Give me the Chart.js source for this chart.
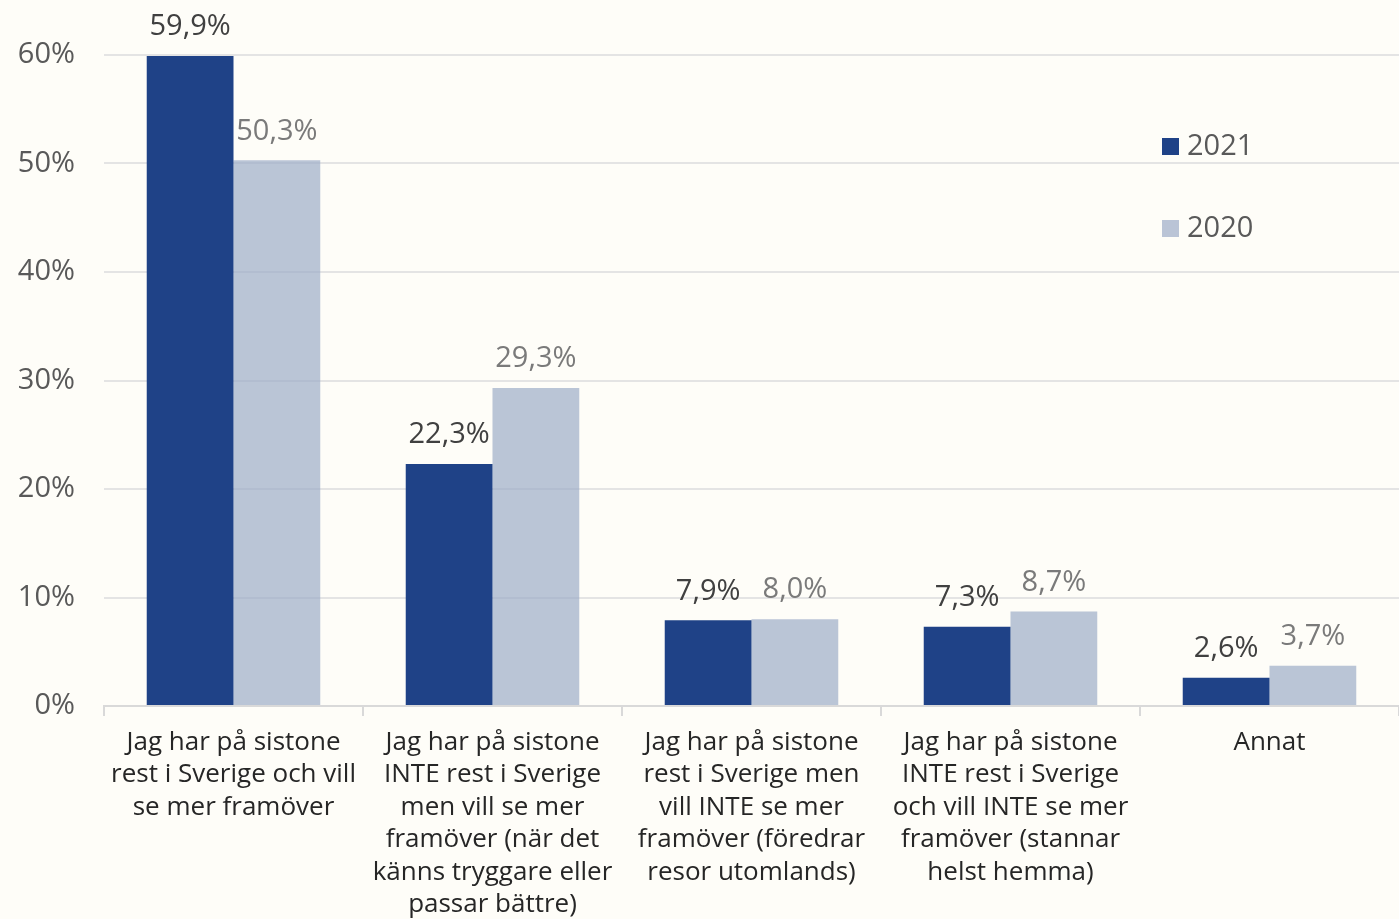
<!DOCTYPE html>
<html>
<head>
<meta charset="utf-8">
<script src="https://cdn.jsdelivr.net/npm/chart.js@4"></script>
<style>
  html, body { margin: 0; padding: 0; background: #fefdf8; }
  #wrap { width: 1399px; height: 919px; position: relative; }
</style>
</head>
<body>
<div id="wrap"><canvas id="chart"></canvas></div>
<script>
const categories = [
    ['Jag har på sistone', 'rest i Sverige och vill', 'se mer framöver'],
    ['Jag har på sistone', 'INTE rest i Sverige', 'men vill se mer', 'framöver (när det', 'känns tryggare eller', 'passar bättre)'],
    ['Jag har på sistone', 'rest i Sverige men', 'vill INTE se mer', 'framöver (föredrar', 'resor utomlands)'],
    ['Jag har på sistone', 'INTE rest i Sverige', 'och vill INTE se mer', 'framöver (stannar', 'helst hemma)'],
    ['Annat']
];
const seriesNames = ['2021', '2020'];
const values2021 = [59.9, 22.3, 7.9, 7.3, 2.6];
const values2020 = [50.3, 29.3, 8.0, 8.7, 3.7];
const yTicks = [0, 10, 20, 30, 40, 50, 60];

const FONT = "'Open Sans', 'DejaVu Sans', sans-serif";

// value labels above each bar
const valueLabels = {
    id: 'valueLabels',
    afterDatasetsDraw(chart) {
        const ctx = chart.ctx;
        ctx.save();
        ctx.font = '29px ' + FONT;
        ctx.textAlign = 'center';
        ctx.textBaseline = 'middle';
        chart.data.datasets.forEach((ds, i) => {
            const meta = chart.getDatasetMeta(i);
            ctx.fillStyle = ds.labelColor;
            meta.data.forEach((bar, j) => {
                const txt = ds.data[j].toFixed(1).replace('.', ',') + '%';
                ctx.fillText(txt, bar.x, bar.y - 29);
            });
        });
        ctx.restore();
    }
};

// legend drawn inside the plot, top right
const insideLegend = {
    id: 'insideLegend',
    afterDraw(chart) {
        const ctx = chart.ctx;
        const area = chart.chartArea;
        ctx.save();
        ctx.font = '29px ' + FONT;
        ctx.textBaseline = 'middle';
        ctx.textAlign = 'left';
        chart.data.datasets.forEach((ds, i) => {
            const x = area.right - 237;
            const y = 146 + i * 82;
            ctx.fillStyle = ds.legendColor;
            ctx.fillRect(x, y - 8, 17, 17);
            ctx.fillStyle = '#595959';
            ctx.fillText(ds.label, x + 25, y + 1);
        });
        ctx.restore();
    }
};

new Chart(document.getElementById('chart'), {
    type: 'bar',
    data: {
        labels: categories,
        datasets: [
            {
                label: seriesNames[0],
                data: values2021,
                backgroundColor: '#1f4287',
                legendColor: '#1f4287',
                labelColor: '#404040',
                categoryPercentage: 0.67,
                barPercentage: 1.0
            },
            {
                label: seriesNames[1],
                data: values2020,
                backgroundColor: 'rgba(156,172,199,0.7)',
                legendColor: '#bac4d6',
                labelColor: '#7a7a7a',
                categoryPercentage: 0.67,
                barPercentage: 1.0
            }
        ]
    },
    options: {
        responsive: true,
        maintainAspectRatio: false,
        animation: false,
        layout: { padding: { top: 55, right: 0, left: 0, bottom: 0 } },
        plugins: {
            legend: { display: false },
            tooltip: { enabled: false }
        },
        scales: {
            y: {
                min: 0,
                max: 60,
                afterFit(scale) { scale.width = 104; },
                afterBuildTicks(scale) { scale.ticks = yTicks.map(v => ({ value: v })); },
                border: { display: false },
                grid: { color: '#e4e4e4', lineWidth: 2, drawTicks: false },
                ticks: {
                    padding: 29,
                    color: '#595959',
                    font: { family: FONT, size: 29 },
                    callback: v => v + '%'
                }
            },
            x: {
                afterFit(scale) { scale.height = 213; },
                border: { display: true, color: '#d9d9d9', width: 2 },
                grid: {
                    offset: true,
                    drawOnChartArea: false,
                    drawTicks: true,
                    tickLength: 10,
                    color: '#d9d9d9',
                    lineWidth: 2
                },
                ticks: {
                    padding: 10,
                    maxRotation: 0,
                    autoSkip: false,
                    color: '#262626',
                    font: { family: FONT, size: 26, lineHeight: 1.25 }
                }
            }
        }
    },
    plugins: [valueLabels, insideLegend]
});
</script>
</body>
</html>
